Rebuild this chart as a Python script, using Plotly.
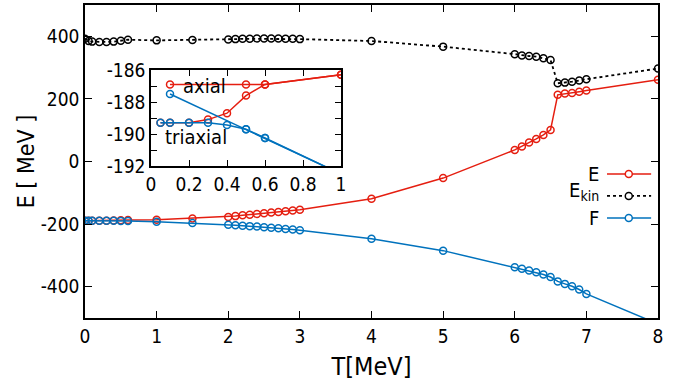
import plotly.graph_objects as go

# ---------------- data ----------------
T = [0.0, 0.05, 0.1, 0.2, 0.3, 0.4, 0.5, 0.6, 1.0, 1.5,
     2.0, 2.1, 2.2, 2.3, 2.4, 2.5, 2.6, 2.7, 2.8, 2.9, 3.0,
     4.0, 5.0,
     6.0, 6.1, 6.2, 6.3, 6.4, 6.5, 6.6, 6.7, 6.8, 6.9, 7.0,
     8.0]
E = [-189.3, -189.3, -189.3, -189.3, -189.1, -188.7, -187.6, -186.9, -186.3, -182,
     -177, -174.5, -172, -170, -167.5, -165, -163, -161, -159, -156.5, -154,
     -119, -53,
     37, 48, 61, 72, 85, 101, 213, 217, 219, 223, 226.5,
     261]
Ekin = [392, 385, 383, 382, 382, 383, 386, 389, 387, 388,
        390, 391, 392, 392, 393, 393, 393, 393, 392, 392, 391,
        385, 367,
        343, 339, 337, 335, 330, 324, 250, 252, 255, 259, 263,
        297]
F = [-189.3, -189.3, -189.3, -189.3, -189.3, -189.44, -189.7, -190.25, -192.5, -196.5,
     -202, -203.5, -205, -206.5, -208, -210, -211.5, -213.5, -215.5, -217.5, -219.5,
     -246.6, -284.8,
     -338, -343, -348.6, -354, -361, -369, -383, -391, -398.7, -409, -423,
     -519]

# inset (low temperature detail)
T_tri = [0.05, 0.1, 0.2, 0.3, 0.4, 0.5, 0.6, 1.0]
E_tri = [-189.3, -189.3, -189.3, -189.1, -188.7, -187.6, -186.9, -186.3]
F_tri = [-189.3, -189.3, -189.3, -189.3, -189.44, -189.7, -190.25, -192.5]
T_ax = [0.1, 0.5, 0.6, 1.0]
E_ax = [-186.9, -186.9, -186.9, -186.3]
F_ax = [-187.5, -189.7, -190.25, -192.5]

# tick labels
main_yticks = [-400, -200, 0, 200, 400]
main_ylabels = ["-400", "-200", "0", "200", "400"]
inset_yticks = [-192, -190, -188, -186]
inset_ylabels = ["-192", "-190", "-188", "-186"]

RED = "#e51e10"
BLUE = "#0072bd"
BLACK = "#000000"
FONT = "DejaVu Sans Condensed, DejaVu Sans"

mk = lambda c: dict(symbol="circle-open", size=7, color=c, line=dict(width=1.5, color=c))

fig = go.Figure()
fig.add_trace(go.Scatter(x=T, y=E, mode="lines+markers", line=dict(color=RED, width=1.5),
                         marker=mk(RED), xaxis="x", yaxis="y", showlegend=False))
fig.add_trace(go.Scatter(x=T, y=Ekin, mode="lines+markers", line=dict(color=BLACK, width=1.8, dash="dot"),
                         marker=mk(BLACK), xaxis="x", yaxis="y", showlegend=False))
fig.add_trace(go.Scatter(x=T, y=F, mode="lines+markers", line=dict(color=BLUE, width=1.5),
                         marker=mk(BLUE), xaxis="x", yaxis="y", showlegend=False))

for xs, ys, c in [(T_ax, E_ax, RED), (T_tri, E_tri, RED), (T_ax, F_ax, BLUE), (T_tri, F_tri, BLUE)]:
    fig.add_trace(go.Scatter(x=xs, y=ys, mode="lines+markers", line=dict(color=c, width=1.5),
                             marker=mk(c), xaxis="x2", yaxis="y2", showlegend=False))

axis_common = dict(showline=True, linecolor="black", linewidth=1.5, mirror="ticks",
                   ticks="inside", tickcolor="black", showgrid=False, zeroline=False,
                   automargin=False)

fig.update_layout(
    width=687, height=389,
    margin=dict(l=85, r=29, t=5, b=71, autoexpand=False),
    paper_bgcolor="white", plot_bgcolor="white",
    font=dict(family=FONT, size=19, color="black"),
    xaxis=dict(range=[0, 8], dtick=1, ticklen=7, tickwidth=1, **axis_common,
               title=dict(text="T[MeV]", font=dict(size=25), standoff=12)),
    yaxis=dict(range=[-500, 500], tickvals=main_yticks, ticktext=main_ylabels,
               ticklen=7, tickwidth=1, **axis_common,
               title=dict(text="E [ MeV ]", font=dict(size=23), standoff=0)),
    xaxis2=dict(domain=[0.1152, 0.4468], anchor="y2", range=[0, 1], dtick=0.2,
                ticklen=6, tickwidth=1, **axis_common),
    yaxis2=dict(domain=[0.4856, 0.7923], anchor="x2", range=[-192, -186],
                tickvals=inset_yticks, ticktext=inset_ylabels,
                ticklen=6, tickwidth=1, minor=dict(dtick=1, ticks="inside", ticklen=6, tickcolor="black"),
                **axis_common),
)

# inset labels
fig.add_annotation(x=0.284, y=-187.0, xref="x2", yref="y2", text="axial", showarrow=False,
                   font=dict(size=20))
fig.add_annotation(x=0.237, y=-190.2, xref="x2", yref="y2", text="triaxial", showarrow=False,
                   font=dict(size=20))

# gnuplot-style key: text right-aligned, sample to its right
key = [("E", RED, "solid", 0.46, 0.46), ("E<sub>kin</sub>", BLACK, "dot", 0.39, 0.405),
       ("F", BLUE, "solid", 0.3195, 0.3195)]
for label, c, dash, yk, yt in key:
    fig.add_annotation(x=0.9005, y=yt, xref="paper", yref="paper", text=label, showarrow=False,
                       xanchor="right", yanchor="middle", font=dict(size=20))
    fig.add_shape(type="line", xref="paper", yref="paper", x0=0.911, x1=0.988, y0=yk, y1=yk,
                  line=dict(color=c, width=1.8 if dash == "dot" else 1.5, dash=dash))
    fig.add_shape(type="circle", xref="paper", yref="paper", xsizemode="pixel", ysizemode="pixel",
                  xanchor=0.949, yanchor=yk, x0=-3.5, x1=3.5, y0=-3.5, y1=3.5,
                  line=dict(color=c, width=1.5), fillcolor="white")

fig.write_html("out.html")
